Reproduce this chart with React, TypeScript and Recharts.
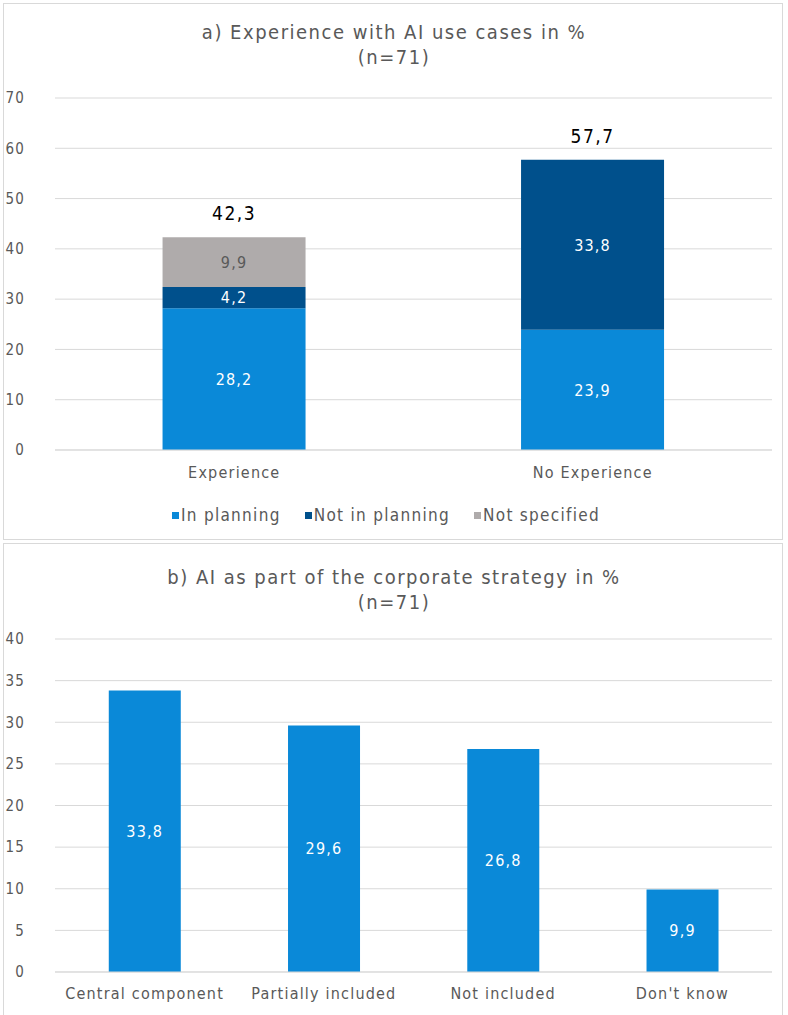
import { BarChart, Bar, XAxis, YAxis, CartesianGrid, Legend, LabelList } from "recharts";

const groups = ["Experience", "No Experience"];
const inPlanning = [28.2, 23.9];
const notInPlanning = [4.2, 33.8];
const notSpecified = [9.9, 0];
const totals = [42.3, 57.7];
const expTicks = [0, 10, 20, 30, 40, 50, 60, 70];

const strategyCats = ["Central component", "Partially included", "Not included", "Don't know"];
const strategyVals = [33.8, 29.6, 26.8, 9.9];
const stratTicks = [0, 5, 10, 15, 20, 25, 30, 35, 40];

const FONT = "'DejaVu Sans Condensed', 'Liberation Sans Narrow', sans-serif";
const GREY_TEXT = "#595959";
const BLUE = "#0a89d8";
const DARK_BLUE = "#00508c";
const LIGHT_GREY = "#afabab";

const fmt = (v: any) => (v == null ? "" : Number(v).toFixed(1).replace(".", ","));

const expData = groups.map((g, i) => ({
  name: g,
  inPlanning: inPlanning[i],
  notInPlanning: notInPlanning[i],
  notSpecified: notSpecified[i],
  total: totals[i],
}));

const stratData = strategyCats.map((c, i) => ({ name: c, value: strategyVals[i] }));

const tickStyle = { fontSize: 15, fill: GREY_TEXT, fontFamily: FONT, letterSpacing: 1.2 };

// total above the highest non-empty segment of each stack
function totalLabel(onTop: (i: number) => boolean) {
  return (p: any) => {
    const i = p.index;
    if (i == null || !onTop(i)) return null;
    return (
      <text x={p.x + p.width / 2} y={p.y - 17} textAnchor="middle" fill="#000" fontSize={19} fontFamily={FONT} letterSpacing={1.5}>
        {fmt(totals[i])}
      </text>
    );
  };
}

function LegendContent(props: any) {
  const items = props.payload || [];
  return (
    <div style={{ display: "flex", justifyContent: "center", gap: 24, fontFamily: FONT, fontSize: 17, color: GREY_TEXT, letterSpacing: 1.3 }}>
      {items.map((it: any) => (
        <span key={it.value} style={{ display: "flex", alignItems: "center" }}>
          <span style={{ width: 7, height: 7, background: it.color, marginRight: 2, display: "inline-block" }} />
          {it.value}
        </span>
      ))}
    </div>
  );
}

function Title({ top, line1 }: { top: number; line1: string }) {
  return (
    <div style={{ position: "absolute", left: 0, top, width: 788, textAlign: "center", fontFamily: FONT, fontSize: 20, color: GREY_TEXT, letterSpacing: 1.5, lineHeight: "25px" }}>
      <div>{line1}</div>
      <div>(n=71)</div>
    </div>
  );
}

export default function App() {
  return (
    <div style={{ position: "absolute", left: 0, top: 0, width: 788, height: 1015, background: "#fff", overflow: "hidden" }}>
      <div style={{ position: "absolute", left: 3, top: 3, width: 778, height: 535, border: "1px solid #d9d9d9" }} />
      <div style={{ position: "absolute", left: 3, top: 543, width: 778, height: 480, border: "1px solid #d9d9d9" }} />
      <Title top={20} line1="a) Experience with AI use cases in %" />
      <Title top={565} line1="b) AI as part of the corporate strategy in %" />

      <div style={{ position: "absolute", left: 0, top: 0 }}>
        <BarChart width={788} height={540} data={expData} margin={{ top: 98, right: 16, left: 0, bottom: 40 }} barCategoryGap="30%">
          <CartesianGrid vertical={false} stroke="#d9d9d9" />
          <XAxis dataKey="name" axisLine={{ stroke: "#d9d9d9" }} tickLine={false} tickSize={0} tickMargin={17} height={30} tick={{ ...tickStyle, fontSize: 16 }} />
          <YAxis domain={[0, 70]} ticks={expTicks} axisLine={false} tickLine={false} tickSize={0} tickMargin={30} width={55} tick={tickStyle} />
          <Legend verticalAlign="bottom" content={<LegendContent />} wrapperStyle={{ bottom: 15 }} />
          <Bar dataKey="inPlanning" name="In planning" stackId="a" fill={BLUE} isAnimationActive={false}>
            <LabelList dataKey="inPlanning" position="center" formatter={fmt} fill="#fff" fontSize={16} fontFamily={FONT} letterSpacing={1.2} />
          </Bar>
          <Bar dataKey="notInPlanning" name="Not in planning" stackId="a" fill={DARK_BLUE} isAnimationActive={false}>
            <LabelList dataKey="notInPlanning" position="center" formatter={fmt} fill="#fff" fontSize={16} fontFamily={FONT} letterSpacing={1.2} />
            <LabelList dataKey="total" content={totalLabel((i) => !notSpecified[i])} />
          </Bar>
          <Bar dataKey="notSpecified" name="Not specified" stackId="a" fill={LIGHT_GREY} isAnimationActive={false}>
            <LabelList dataKey="notSpecified" position="center" formatter={(v: any) => (v ? fmt(v) : "")} fill={GREY_TEXT} fontSize={16} fontFamily={FONT} letterSpacing={1.2} />
            <LabelList dataKey="total" content={totalLabel((i) => !!notSpecified[i])} />
          </Bar>
        </BarChart>
      </div>

      <div style={{ position: "absolute", left: 0, top: 540 }}>
        <BarChart width={788} height={475} data={stratData} margin={{ top: 99, right: 16, left: 0, bottom: 0 }} barCategoryGap="30%">
          <CartesianGrid vertical={false} stroke="#d9d9d9" />
          <XAxis dataKey="name" axisLine={{ stroke: "#d9d9d9" }} tickLine={false} tickSize={0} tickMargin={16} height={43} interval={0} tick={{ ...tickStyle, fontSize: 16 }} />
          <YAxis domain={[0, 40]} ticks={stratTicks} axisLine={false} tickLine={false} tickSize={0} tickMargin={30} width={55} tick={tickStyle} />
          <Bar dataKey="value" fill={BLUE} isAnimationActive={false}>
            <LabelList dataKey="value" position="center" formatter={fmt} fill="#fff" fontSize={16} fontFamily={FONT} letterSpacing={1.2} />
          </Bar>
        </BarChart>
      </div>
    </div>
  );
}
